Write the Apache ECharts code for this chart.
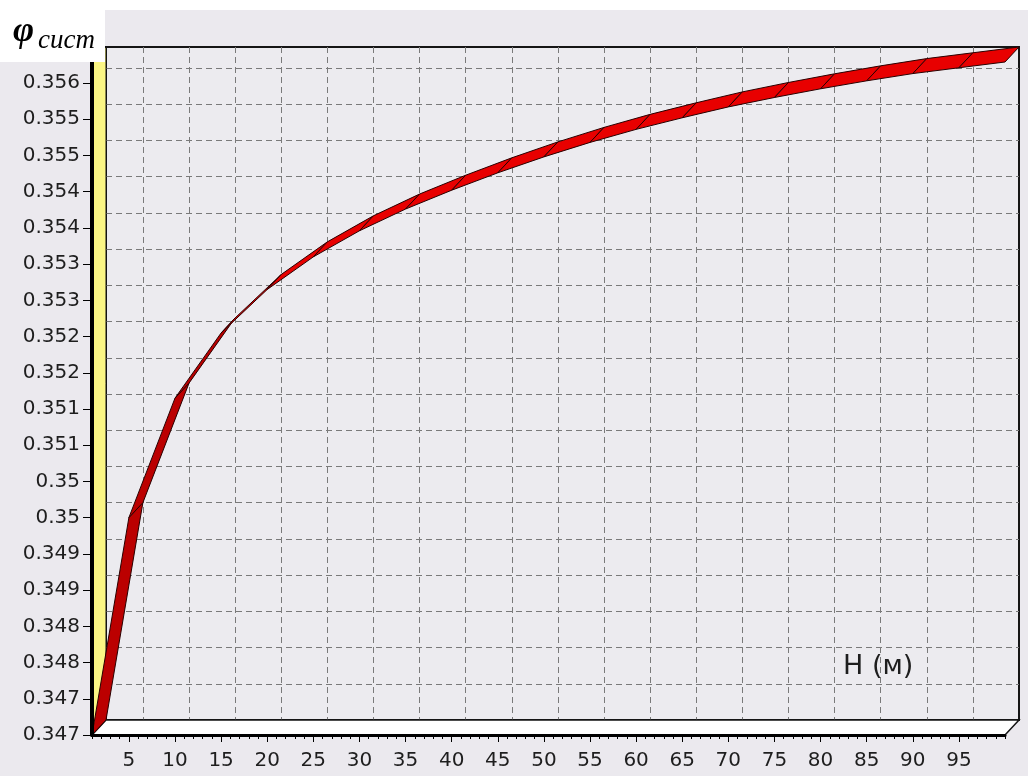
<!DOCTYPE html>
<html>
<head>
<meta charset="utf-8">
<title>φ сист (H)</title>
<script src="https://cdn.jsdelivr.net/npm/echarts@6.0.0/dist/echarts.min.js"></script>
<style>
  html, body { margin: 0; padding: 0; background: #fff; }
  #chart { width: 1028px; height: 776px; }
</style>
</head>
<body>
<div id="chart"></div>
<script>
// H, m
const heights = [1, 5, 10, 15, 20, 25, 30, 35, 40, 45, 50, 55, 60, 65, 70, 75, 80, 85, 90, 95, 100]
// φ сист
const phiValues = [
  0.34700, 0.35000, 0.35165, 0.35255, 0.35315, 0.35360, 0.35396, 0.35426, 0.35452, 0.35476,
  0.35498, 0.35518, 0.35536, 0.35552, 0.35567, 0.35580, 0.35592, 0.35603, 0.35613, 0.35621, 0.35629
]
const xTicks = [5, 10, 15, 20, 25, 30, 35, 40, 45, 50, 55, 60, 65, 70, 75, 80, 85, 90, 95]
const yTicks = [0.347, 0.3475, 0.348, 0.3485, 0.349, 0.3495, 0.35, 0.3505, 0.351, 0.3515,
  0.352, 0.3525, 0.353, 0.3535, 0.354, 0.3545, 0.355, 0.3555, 0.356]
const yTickLabels = ['0.347', '0.347', '0.348', '0.348', '0.349', '0.349', '0.35', '0.35', '0.351', '0.351',
  '0.352', '0.352', '0.353', '0.353', '0.354', '0.354', '0.355', '0.355', '0.356']

const X_MIN = 1, X_MAX = 100
const Y_MIN = 0.347, Y_MAX = 0.35629
const DX = 14, DY = 15 // depth of the 3D box in px
const xMinorTicks = Array.from({ length: X_MAX - X_MIN + 1 }, (_, i) => X_MIN + i)

const segments = heights.slice(1).map((h, i) => [heights[i], phiValues[i], h, phiValues[i + 1]])

const labelFont = { color: '#1e1e1e', fontFamily: 'DejaVu Sans', fontSize: 20 }

function back(p) { return [p[0] + DX, p[1] - DY] }

function renderWalls(params, api) {
  const bl = api.coord([X_MIN, Y_MIN])
  const tl = api.coord([X_MIN, Y_MAX])
  const br = api.coord([X_MAX, Y_MIN])
  return {
    type: 'group',
    children: [
      { type: 'polygon', shape: { points: [bl, tl, back(tl), back(bl)] },
        style: { fill: '#fbf684', stroke: '#151515', lineWidth: 1 } },
      { type: 'polygon', shape: { points: [bl, br, back(br), back(bl)] },
        style: { fill: '#ffffff', stroke: '#151515', lineWidth: 1.5 } }
    ]
  }
}

function renderRibbon(params, api) {
  const a = api.coord([api.value(0), api.value(1)])
  const b = api.coord([api.value(2), api.value(3)])
  const steep = (a[1] - b[1]) / Math.max(b[0] - a[0], 0.01) > DY / DX
  return {
    type: 'polygon',
    shape: { points: [a, b, back(b), back(a)] },
    style: { fill: steep ? '#bb0000' : '#e80000', stroke: '#2a0000', lineWidth: 1 }
  }
}

const chart = echarts.init(document.getElementById('chart'))
chart.setOption({
  backgroundColor: '#ebe9ee',
  animation: false,
  grid: [
    // back wall
    { left: 92 + DX, right: 23 - DX, top: 62 - DY, bottom: 41 + DY, show: true,
      backgroundColor: '#ecebef', borderColor: '#151515', borderWidth: 2 },
    // front plane
    { left: 92, right: 23, top: 62, bottom: 41 }
  ],
  xAxis: [
    { gridIndex: 0, type: 'value', min: X_MIN, max: X_MAX,
      axisLine: { show: false }, axisLabel: { show: false },
      axisTick: { show: false, customValues: xTicks },
      splitLine: { show: true, lineStyle: { color: '#7a7a7a', type: [6, 4], width: 1 } } },
    { gridIndex: 1, type: 'value', position: 'bottom', min: X_MIN, max: X_MAX, z: 5,
      axisLine: { show: true, lineStyle: { color: '#000', width: 3 } },
      axisTick: { show: true, customValues: xTicks, length: 7, lineStyle: { color: '#000' } },
      axisLabel: { show: true, customValues: xTicks, margin: 16, ...labelFont },
      splitLine: { show: false } },
    { gridIndex: 1, type: 'value', position: 'bottom', min: X_MIN, max: X_MAX, z: 5,
      axisLine: { show: false }, axisLabel: { show: false },
      axisTick: { show: true, customValues: xMinorTicks, length: 4, lineStyle: { color: '#000' } },
      splitLine: { show: false } }
  ],
  yAxis: [
    { gridIndex: 0, type: 'value', min: Y_MIN, max: Y_MAX,
      axisLine: { show: false }, axisLabel: { show: false },
      axisTick: { show: false, customValues: yTicks },
      splitLine: { show: true, lineStyle: { color: '#7a7a7a', type: [6, 4], width: 1 } } },
    { gridIndex: 1, type: 'value', min: Y_MIN, max: Y_MAX, z: 5,
      axisLine: { show: true, lineStyle: { color: '#000', width: 4 } },
      axisTick: { show: true, customValues: yTicks, length: 9, lineStyle: { color: '#000' } },
      axisLabel: {
        show: true, customValues: yTicks, margin: 12, ...labelFont,
        formatter: v => {
          const i = yTicks.findIndex(t => Math.abs(t - v) < 1e-7)
          return i >= 0 ? yTickLabels[i] : ''
        }
      },
      splitLine: { show: false } }
  ],
  graphic: [
    { type: 'rect', left: 0, top: 0, shape: { width: 1028, height: 10 }, style: { fill: '#fff' }, z: 10 },
    { type: 'rect', left: 0, top: 10, shape: { width: 105, height: 52 }, style: { fill: '#fff' }, z: 10 },
    { type: 'text', left: 13, top: 14, z: 11,
      style: { text: 'φ', font: 'italic bold 36px "Liberation Serif"', fill: '#000' } },
    { type: 'text', left: 38, top: 27, z: 11,
      style: { text: 'сист', font: 'italic 27px "Liberation Serif"', fill: '#000' } },
    { type: 'text', left: 843, top: 653, z: 11,
      style: { text: 'H (м)', font: '27px "DejaVu Sans"', fill: '#1e1e1e' } }
  ],
  series: [
    { type: 'custom', xAxisIndex: 1, yAxisIndex: 1, z: 1, clip: false, silent: true,
      renderItem: renderWalls, data: [[X_MIN, Y_MIN]] },
    { type: 'custom', xAxisIndex: 1, yAxisIndex: 1, z: 3, clip: false,
      renderItem: renderRibbon, data: segments }
  ]
})
</script>
</body>
</html>
